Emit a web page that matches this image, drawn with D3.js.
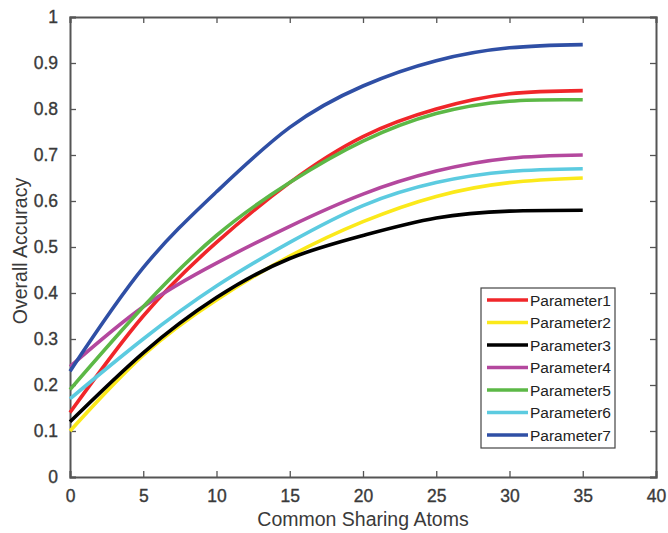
<!DOCTYPE html>
<html>
<head>
<meta charset="utf-8">
<script src="https://cdn.jsdelivr.net/npm/d3@7"></script>
<style>
  body { margin: 0; background: #fff; }
  text { font-family: "Liberation Sans", Arial, sans-serif; }
</style>
</head>
<body>
<svg></svg>
<script>
// values at x = 0, 5, ..., 35
const xs = [0, 5, 10, 15, 20, 25, 30, 35];
const names = ["Parameter1", "Parameter2", "Parameter3", "Parameter4", "Parameter5", "Parameter6", "Parameter7"];
const colors = ["#f0262a", "#fbe91a", "#000000", "#b4489e", "#5cb846", "#5ccbe0", "#2f4fa5"];
const p1 = [0.14, 0.35, 0.51, 0.64, 0.74, 0.80, 0.833, 0.84];
const p2 = [0.10, 0.265, 0.385, 0.48, 0.555, 0.61, 0.64, 0.65];
const p3 = [0.12, 0.27, 0.39, 0.475, 0.525, 0.563, 0.578, 0.58];
const p4 = [0.24, 0.37, 0.465, 0.545, 0.615, 0.665, 0.693, 0.70];
const p5 = [0.19, 0.37, 0.525, 0.64, 0.73, 0.79, 0.817, 0.82];
const p6 = [0.17, 0.30, 0.415, 0.51, 0.59, 0.64, 0.664, 0.67];
const p7 = [0.23, 0.455, 0.62, 0.76, 0.85, 0.905, 0.933, 0.94];
const series = [p1, p2, p3, p4, p5, p6, p7];
const xTicks = [0, 5, 10, 15, 20, 25, 30, 35, 40];
const yTicks = [0, 0.1, 0.2, 0.3, 0.4, 0.5, 0.6, 0.7, 0.8, 0.9, 1];

const W = 668, H = 533;
const plotLeft = 70, plotRight = 656, plotTop = 17, plotBottom = 477;

const svg = d3.select("svg").attr("width", W).attr("height", H);

const x = d3.scaleLinear().domain([0, 40]).range([plotLeft, plotRight]);
const y = d3.scaleLinear().domain([0, 1]).range([plotBottom, plotTop]);

const axisColor = "#555";
const textColor = "#3a3a3a";

// axes with ticks on all four sides (box on)
const gx = svg.append("g").attr("transform", `translate(0,${plotBottom})`)
  .call(d3.axisBottom(x).tickValues(xTicks).tickSize(-6).tickPadding(13).tickFormat(d3.format("d")));
const gxTop = svg.append("g").attr("transform", `translate(0,${plotTop})`)
  .call(d3.axisTop(x).tickValues(xTicks).tickSize(-6).tickFormat(""));
const gy = svg.append("g").attr("transform", `translate(${plotLeft},0)`)
  .call(d3.axisLeft(y).tickValues(yTicks).tickSize(-6).tickPadding(12).tickFormat(d => d === 0 || d === 1 ? d3.format("d")(d) : d3.format(".1f")(d)));
const gyRight = svg.append("g").attr("transform", `translate(${plotRight},0)`)
  .call(d3.axisRight(y).tickValues(yTicks).tickSize(-6).tickFormat(""));

[gx, gxTop, gy, gyRight].forEach(g => {
  g.select(".domain").attr("stroke", axisColor).attr("stroke-width", 2);
  g.selectAll(".tick line").attr("stroke", axisColor).attr("stroke-width", 1.3);
  g.selectAll(".tick text")
    .attr("fill", textColor)
    .attr("stroke", textColor).attr("stroke-width", 0.35)
    .style("font-size", "17.5px");
});

// lines
const line = d3.line()
  .x((d, i) => x(xs[i]))
  .y(d => y(d))
  .curve(d3.curveNatural);

svg.append("g").selectAll("path")
  .data(series)
  .join("path")
  .attr("fill", "none")
  .attr("stroke", (d, i) => colors[i])
  .attr("stroke-width", 3.6)
  .attr("d", line);

// axis titles
svg.append("text")
  .attr("x", (plotLeft + plotRight) / 2)
  .attr("y", 526)
  .attr("text-anchor", "middle")
  .attr("fill", textColor)
  .style("font-size", "19.5px")
  .text("Common Sharing Atoms");

svg.append("text")
  .attr("transform", `translate(27,251) rotate(-90)`)
  .attr("text-anchor", "middle")
  .attr("fill", textColor)
  .style("font-size", "19.5px")
  .text("Overall Accuracy");

// legend
const lg = svg.append("g").attr("transform", "translate(481,288)");
lg.append("rect")
  .attr("width", 134).attr("height", 160)
  .attr("fill", "#fff").attr("stroke", "#444").attr("stroke-width", 1.2);

const item = lg.selectAll("g.item")
  .data(names)
  .join("g")
  .attr("class", "item")
  .attr("transform", (d, i) => `translate(0,${12 + i * 22.5})`);

item.append("line")
  .attr("x1", 6).attr("x2", 47)
  .attr("stroke", (d, i) => colors[i])
  .attr("stroke-width", 3.6);

item.append("text")
  .attr("x", 49).attr("dy", "0.36em")
  .attr("fill", "#222")
  .style("font-size", "15.5px")
  .text(d => d);
</script>
</body>
</html>
